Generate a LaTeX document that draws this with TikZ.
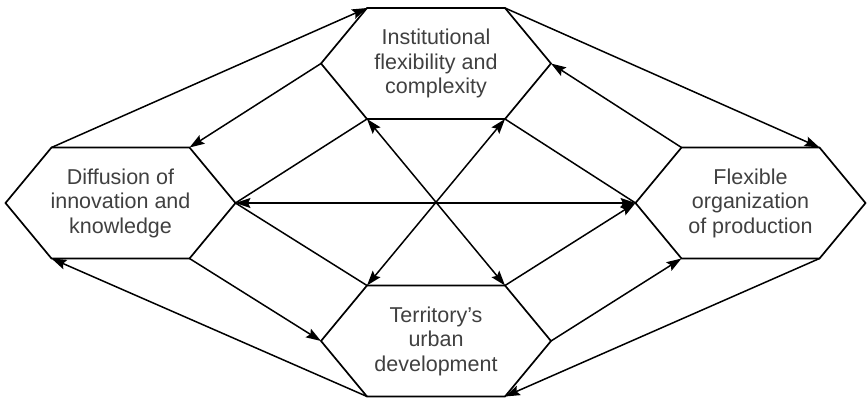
\documentclass[tikz,border=0pt]{standalone}
\usepackage{fontspec}
\setmainfont{Liberation Sans}
\usetikzlibrary{arrows.meta}
\newcommand\myhex[4]{%
  \coordinate (#1-L)  at ({#2-115},#3);
  \coordinate (#1-TL) at ({#2-69},{#3-55.5});
  \coordinate (#1-TR) at ({#2+69},{#3-55.5});
  \coordinate (#1-R)  at ({#2+115},#3);
  \coordinate (#1-BR) at ({#2+69},{#3+55.5});
  \coordinate (#1-BL) at ({#2-69},{#3+55.5});
  \draw[hexline] (#1-L) -- (#1-TL) -- (#1-TR) -- (#1-R) -- (#1-BR) -- (#1-BL) -- cycle;
  \node[htext] (#1) at (#2,#3) {#4};
}
\begin{document}
\begin{tikzpicture}[x=1pt,y=-1pt,
  hexline/.style={line width=1.7pt, line join=miter},
  conn/.style={line width=1.5pt},
  tip/.tip={Stealth[length=15pt,width=10pt,inset=2.5pt]},
  arr/.style={conn,-tip},
  dbl/.style={conn,tip-tip},
  htext/.style={text=black!75, font=\fontsize{21.5}{24.5}\selectfont, align=center}]
\useasboundingbox (0,0) rectangle (867,399);
\myhex{T}{436}{63.5}{Institutional\\flexibility and\\complexity}
\myhex{B}{436}{341}{Territory’s\\urban\\development}
\myhex{Lh}{120.5}{203}{Diffusion of\\innovation and\\knowledge}
\myhex{Rh}{750.5}{203}{Flexible\\organization\\of production}
% upper left
\draw[arr] (Lh-TL) -- (T-TL);
\draw[arr] (T-L) -- (Lh-TR);
\draw[conn] (Lh-R) -- (T-BL);
% upper right
\draw[arr] (T-TR) -- (Rh-TR);
\draw[arr] (Rh-TL) -- (T-R);
\draw[conn] (T-BR) -- (Rh-L);
% lower left
\draw[arr] (B-BL) -- (Lh-BL);
\draw[arr] (Lh-BR) -- (B-L);
\draw[conn] (Lh-R) -- (B-TL);
% lower right
\draw[arr] (Rh-BR) -- (B-BR);
\draw[arr] (B-R) -- (Rh-BL);
\draw[arr] (B-TR) -- (Rh-L);
% centre
\draw[dbl] (T-BL) -- (B-TR);
\draw[dbl] (T-BR) -- (B-TL);
\draw[dbl] (Lh-R) -- (Rh-L);
\end{tikzpicture}
\end{document}
